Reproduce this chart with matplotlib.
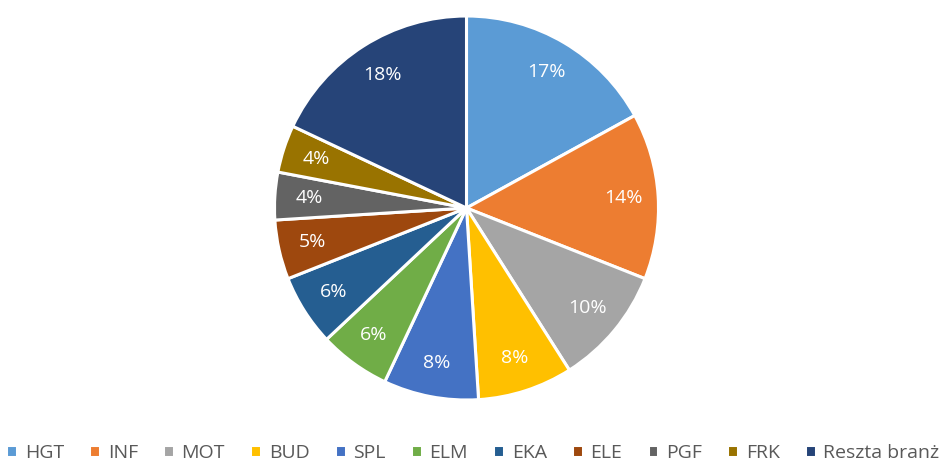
import matplotlib.pyplot as plt

# udzial branz
branze = ["HGT", "INF", "MOT", "BUD", "SPL", "ELM", "EKA", "ELE", "PGF", "FRK", "Reszta branż"]
udzial = [17, 14, 10, 8, 8, 6, 6, 5, 4, 4, 18]
kolory = ["#5B9BD5", "#ED7D31", "#A5A5A5", "#FFC000", "#4472C4", "#70AD47",
          "#255E91", "#9E480E", "#636363", "#997300", "#264478"]

plt.rcParams['font.family'] = ['Open Sans', 'DejaVu Sans']

fig = plt.figure(figsize=(9.42, 4.62), dpi=100)
ax = fig.add_axes([274.5 / 942, 62 / 462, 384 / 942, 384 / 462])

wedges, texts, autotexts = ax.pie(
    udzial, colors=kolory, startangle=90, counterclock=False,
    autopct=lambda p: "%d%%" % round(p), pctdistance=0.82,
    wedgeprops=dict(edgecolor="white", linewidth=2.2),
    textprops=dict(color="white", fontsize=14))
ax.set_xlim(-1, 1)
ax.set_ylim(-1, 1)
ax.set_aspect("equal")

fig.legend(wedges, branze, loc="lower center", bbox_to_anchor=(0.502, -0.038),
           ncol=11, frameon=False, fontsize=14, handlelength=0.55, handleheight=0.6,
           handletextpad=0.4, columnspacing=1.3, labelcolor="#595959")

plt.savefig("out.png", dpi=100)
